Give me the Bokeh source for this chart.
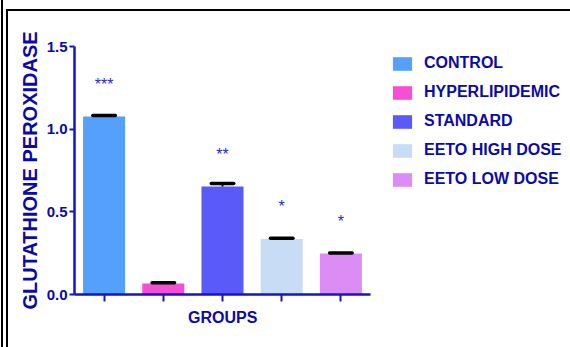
import numpy as np
from bokeh.plotting import figure
from bokeh.models import (ColumnDataSource, Range1d, Legend, LegendItem, FixedTicker,
                          Title, InlineStyleSheet)
from bokeh.core.properties import value
from bokeh.embed import file_html
from bokeh.resources import INLINE

groups = ["CONTROL", "HYPERLIPIDEMIC", "STANDARD", "EETO HIGH DOSE", "EETO LOW DOSE"]
means = [1.077, 0.066, 0.653, 0.336, 0.248]
errs = [0.006, 0.005, 0.018, 0.004, 0.003]
stars = ["***", "", "**", "*", "*"]
colors = ["#55a0fa", "#f550d5", "#5a5af8", "#c8dcf5", "#dc8cf5"]
y_ticks = [0.0, 0.5, 1.0, 1.5]
x_title = "GROUPS"
y_title = "GLUTATHIONE PEROXIDASE"

AXIS = "#1414c8"
TEXT = "#0a0aaa"
FONT = "Liberation Sans"

W, H = 570, 347
LEFT, TOP, BOTTOM = 74, 46, 53
AXIS_PX = 296                      # pixel length of the x axis
n = len(groups)
px_per_unit = AXIS_PX / n
x_end = 0.5 + (W - LEFT) / px_per_unit   # plot area runs to the right edge; axis is bounded

xs = np.arange(1, n + 1)
m = np.array(means)
e = np.array(errs)
cap_half = 0.19

src = ColumnDataSource(dict(x=xs, top=m, group=groups, color=colors,
                            err_top=m + e, x0=xs - cap_half, x1=xs + cap_half,
                            stars=stars))

p = figure(width=W, height=H, output_backend="svg", toolbar_location=None,
           x_range=Range1d(0.5, x_end), y_range=Range1d(0, 1.5),
           min_border_left=LEFT, min_border_right=0, min_border_top=TOP, min_border_bottom=BOTTOM)
p.outline_line_color = None
p.grid.visible = False
p.background_fill_color = "white"
p.border_fill_color = "white"

# page frame lines (left and top only), drawn over the canvas edge
p.stylesheets = [InlineStyleSheet(css="""
:host { position: relative; overflow: hidden; }
:host::before { content: ""; position: absolute; left: 1px; top: 0; width: 2px; height: 100%;
                background: #000; z-index: 10; pointer-events: none; }
:host::after { content: ""; position: absolute; left: 6px; top: 9px; right: -40px; bottom: -40px;
               border: 0 none; border-left: 2px solid #000; border-top: 2px solid #000;
               box-sizing: border-box; z-index: 10; pointer-events: none; }
""")]

bars = p.vbar(x="x", top="top", width=0.71, bottom=0, source=src, fill_color="color", line_color=None)
p.segment(x0="x", x1="x", y0="top", y1="err_top", source=src, line_color="black", line_width=2)
p.segment(x0="x0", x1="x1", y0="err_top", y1="err_top", source=src, line_color="black",
          line_width=3.5, line_cap="round")
p.text(x="x", y="top", text="stars", source=src, text_align="center", text_baseline="alphabetic",
       y_offset=-32, text_font=value(FONT), text_font_size="16px", text_color="#2828c8")

# axes
for ax in (p.xaxis[0], p.yaxis[0]):
    ax.axis_line_color = AXIS
    ax.axis_line_width = 2.5
    ax.major_tick_line_color = AXIS
    ax.major_tick_line_width = 2
    ax.minor_tick_line_color = None
    ax.major_tick_in = 0
    ax.axis_label_text_font = FONT
    ax.axis_label_text_font_style = "bold"
    ax.axis_label_text_color = TEXT
    ax.major_label_text_font = FONT
    ax.major_label_text_font_style = "bold"
    ax.major_label_text_color = TEXT

p.xaxis.bounds = (0.5, n + 0.5)
p.xaxis.ticker = FixedTicker(ticks=list(xs))
p.xaxis.major_tick_out = 7
p.xaxis.major_label_text_font_size = "0px"
p.xaxis.major_label_standoff = 0

# x axis title centred under the bounded axis
title_w = 69
p.add_layout(Title(text=x_title, align="left", offset=AXIS_PX / 2 - title_w / 2,
                   text_font=FONT, text_font_style="bold", text_font_size="16px",
                   text_color=TEXT, standoff=10), "below")

p.yaxis.ticker = FixedTicker(ticks=y_ticks)
p.yaxis.major_label_overrides = {t: f"{t:.1f}" for t in y_ticks}
p.yaxis.major_tick_out = 5
p.yaxis.major_label_standoff = 2
p.yaxis.major_label_text_font_size = "15px"
p.yaxis.axis_label = y_title
p.yaxis.axis_label_text_font_size = "20px"
p.yaxis.axis_label_standoff = 3

legend = Legend(items=[LegendItem(label=g, renderers=[bars], index=i) for i, g in enumerate(groups)],
                location=(316, 106), orientation="vertical",
                glyph_width=24, glyph_height=17, label_height=17, spacing=11,
                label_standoff=10, padding=0, margin=0,
                border_line_color=None, background_fill_alpha=0,
                label_text_font=FONT, label_text_font_style="bold",
                label_text_font_size="16px", label_text_color=TEXT)
p.add_layout(legend, "center")

open("out.html", "w").write(file_html(p, INLINE))
